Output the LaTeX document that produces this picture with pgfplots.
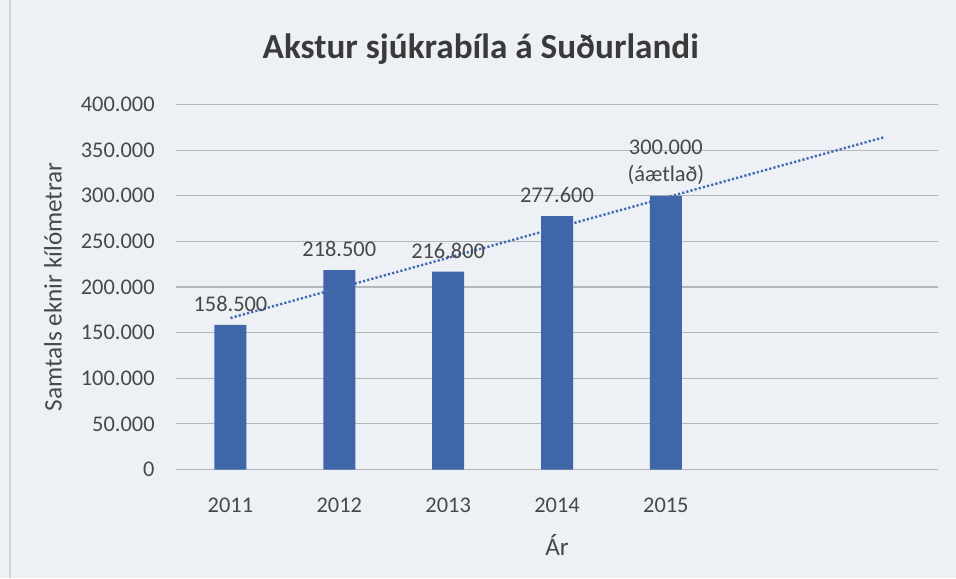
\documentclass[border=0pt]{standalone}
\usepackage{fontspec}
\setmainfont{Carlito}
\usepackage{pgfplots}
\pgfplotsset{compat=1.18}
\definecolor{bg}{RGB}{237,241,246}
\definecolor{barblue}{RGB}{62,102,168}
\definecolor{trendblue}{RGB}{66,106,176}
\definecolor{gridc}{RGB}{180,182,185}
\definecolor{txt}{RGB}{72,72,72}
\definecolor{titlec}{RGB}{58,58,58}
\tikzset{lab/.style={font=\fontsize{11.2}{13.5}\selectfont, text=txt, anchor=center, yshift=10.5pt}}
\begin{document}
\begin{tikzpicture}
\fill[bg] (0,0) rectangle (478pt,289pt);
\path[use as bounding box] (0,0) rectangle (478pt,289pt);
\draw[gray!35, line width=0.6pt] (5pt,0) -- (5pt,289pt);
\begin{axis}[
  at={(88pt,54.25pt)}, anchor=south west,
  scale only axis, width=381pt, height=182.5pt,
  xmin=2010.5, xmax=2017.5, ymin=0, ymax=400000,
  xtick={2011,2012,2013,2014,2015},
  xticklabels={2011,2012,2013,2014,2015},
  ytick={0,50000,100000,150000,200000,250000,300000,350000,400000},
  yticklabels={0,50.000,100.000,150.000,200.000,250.000,300.000,350.000,400.000},
  scaled y ticks=false,
  axis line style={draw=none},
  tick style={draw=none},
  ymajorgrids, grid style={gridc, line width=0.6pt},
  ticklabel style={font=\fontsize{11.2}{13.5}\selectfont, text=txt},
  xticklabel style={anchor=center, yshift=-18pt},
  yticklabel style={anchor=east, inner sep=0pt, xshift=-10.5pt},
  xlabel={Ár},
  xlabel style={at={([yshift=-37.75pt]axis description cs:0.5,0)}, anchor=center, font=\fontsize{12.6}{15}\selectfont, text=txt},
  ylabel={Samtals eknir kílómetrar},
  ylabel style={at={([xshift=-61.5pt]axis description cs:0,0.5)}, anchor=center, font=\fontsize{12.6}{15}\selectfont, text=txt},
  clip=false,
]
\addplot[ybar, bar width=16pt, fill=barblue, draw=none] coordinates {
  (2011,158500) (2012,218500) (2013,216800) (2014,277600) (2015,300000)
};
\addplot[trendblue, line width=1.2pt, dash pattern=on 1.1pt off 1.05pt] coordinates {
  (2011,166000) (2017,364000)
};
\node[lab] at (axis cs:2011,158500) {158.500};
\node[lab] at (axis cs:2012,218500) {218.500};
\node[lab] at (axis cs:2013,216800) {216.800};
\node[lab] at (axis cs:2014,277600) {277.600};
\node[lab] at (axis cs:2015,300000) {(áætlað)};
\node[lab, yshift=13.5pt] at (axis cs:2015,300000) {300.000};
\node[font=\fontsize{17.6}{21}\selectfont\bfseries, text=titlec, anchor=base] at ([yshift=23pt]rel axis cs:0.40,1) {Akstur sjúkrabíla á Suðurlandi};
\end{axis}
\end{tikzpicture}
\end{document}
